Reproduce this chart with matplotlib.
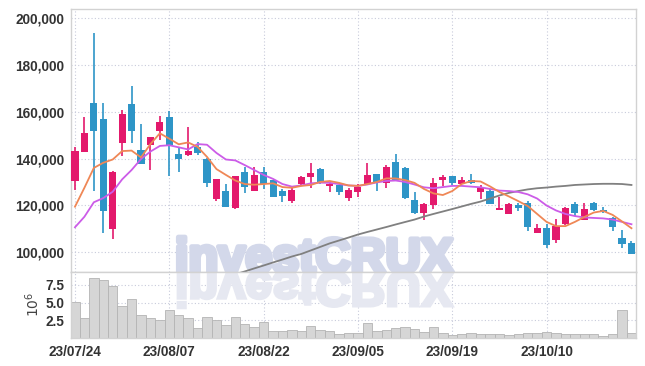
import numpy as np
import matplotlib
matplotlib.use("Agg")
import matplotlib.pyplot as plt
import matplotlib.patheffects as pe
from matplotlib.textpath import TextPath
from matplotlib.patches import PathPatch
from matplotlib.font_manager import FontProperties
from matplotlib.transforms import Affine2D, IdentityTransform

# daily OHLC (KRW), 60 trading days starting 23/07/24
opens = [130500, 142900, 163600, 156900, 110000, 146500, 163300, 143700, 145900, 151900,
         157600, 142000, 141700, 144800, 139800, 122800, 126300, 119000, 134300, 126000,
         134200, 130800, 126100, 121700, 129100, 132200, 135400, 128300, 128700, 123000,
         125800, 129100, 133400, 129400, 138500, 135800, 122300, 116800, 120100, 130800,
         132500, 129100, 130800, 125800, 126200, 118200, 116200, 120000, 120800, 108000,
         110200, 105200, 112000, 120600, 113700, 120800, 118000, 114400, 105900, 103800]
highs = [144800, 157600, 193800, 163600, 134800, 160800, 171200, 154600, 149100, 158200,
         160500, 145000, 153400, 147200, 140100, 131300, 129100, 132600, 136500, 136300,
         136500, 131000, 127100, 128300, 132500, 138000, 135800, 130100, 128900, 127300,
         129100, 138000, 133400, 137200, 141900, 136300, 125800, 120900, 131500, 132800,
         132700, 132000, 133400, 128700, 127000, 123700, 121100, 121100, 122000, 112000,
         112000, 114000, 119400, 121500, 121100, 121500, 119200, 115100, 109400, 104800]
lows = [126500, 142900, 126100, 108300, 105600, 141100, 146800, 137700, 135100, 148000,
        132500, 134400, 141200, 141500, 128000, 122000, 119400, 118300, 125100, 126000,
        126800, 123400, 121500, 120900, 128300, 127300, 129200, 125800, 124300, 121800,
        123400, 129100, 126100, 127300, 130800, 122700, 116100, 113700, 118300, 128300,
        128700, 129000, 129200, 122600, 120400, 118200, 116100, 117700, 109000, 108000,
        101700, 104000, 111600, 115400, 113600, 117600, 116800, 109100, 101600, 99000]
closes = [143200, 150800, 152000, 117700, 134100, 158900, 151900, 137700, 149100, 155600,
          145800, 140000, 143200, 142400, 129700, 131300, 119400, 132500, 127700, 132800,
          129100, 123700, 124100, 126500, 132000, 134000, 129400, 129100, 125800, 126500,
          128000, 132800, 129800, 136300, 130800, 123000, 116800, 120400, 129400, 132100,
          129700, 130800, 129400, 127400, 120600, 118800, 120400, 119000, 110900, 110300,
          102900, 111100, 119000, 116800, 118300, 118000, 117100, 110600, 103400, 99000]

# moving average lines as drawn on the chart
ma_short = [119400, 127500, 136000, 138200, 139600, 143200, 143400, 140500, 146200, 150800,
            148500, 146100, 146900, 145000, 140700, 135500, 133000, 130600, 129100, 128800,
            129100, 129400, 127800, 127500, 128300, 128700, 130000, 130400, 129600, 128500,
            128300, 129100, 130000, 131500, 131500, 130800, 129600, 127000, 125100, 124400,
            126100, 129100, 130400, 130200, 128100, 125700, 123800, 121800, 119700, 116300,
            112900, 111100, 111100, 112900, 115000, 116900, 117600, 115900, 113100, 110200]
ma_mid = [110600, 115100, 121300, 123100, 125800, 131100, 135100, 139800, 143000, 145400,
          145700, 144800, 143900, 146200, 145900, 142400, 139600, 139200, 137200, 135100,
          133000, 131300, 129100, 128000, 128500, 129400, 129700, 129600, 129100, 128500,
          128300, 128900, 129800, 130400, 130600, 130000, 128900, 127700, 127300, 127800,
          128300, 128300, 128000, 127700, 127000, 126300, 126100, 125700, 124700, 122900,
          119900, 117800, 116300, 115400, 114800, 114600, 114400, 113900, 112900, 111900]
ma_long = [np.nan] * 15 + [
          88000, 89200, 90500, 91700, 93000,
          94250, 95550, 96800, 98100, 99200, 100700, 102200, 103700, 104950, 106200,
          107500, 108600, 109650, 110700, 111800, 112860, 113900, 115200, 116300, 117350,
          118400, 119500, 120600, 121600, 122900, 124200, 125300, 126100, 126800, 127300,
          127600, 128000, 128300, 128700, 128900, 129100, 129200, 129200, 129100, 128700]

volumes = [5080000, 2840000, 8460000, 8170000, 7370000, 4560000, 5500000, 3300000, 2840000, 2460000,
           3960000, 3160000, 2840000, 1430000, 2980000, 2460000, 1760000, 2980000, 1900000, 1540000,
           2180000, 960000, 960000, 1150000, 1010000, 1710000, 1150000, 1010000, 590000, 730000,
           730000, 2130000, 910000, 1150000, 1430000, 1570000, 1290000, 870000, 1570000, 730000,
           450000, 490000, 730000, 590000, 590000, 590000, 450000, 590000, 730000, 630000,
           870000, 730000, 590000, 590000, 590000, 590000, 310000, 590000, 3960000, 730000]

tick_pos = [0, 10, 20, 30, 40, 50]
tick_labels = ["23/07/24", "23/08/07", "23/08/22", "23/09/05", "23/09/19", "23/10/10"]

UP = "#e3196c"
DOWN = "#2e95c7"
GRID = "#c8cbdb"
SPINE = "#d2d2d2"
LABEL = "#333333"
WM = "#d3d8ea"
WM_REFL = "#e6e8f1"
tick_font = ["Liberation Sans", "DejaVu Sans"]

x = np.arange(len(closes))
o = np.array(opens)
c = np.array(closes)
colors = [UP if cc >= oo else DOWN for oo, cc in zip(o, c)]

fig = plt.figure(figsize=(6.45, 3.66), dpi=100)
ax = fig.add_axes([0.1101, 0.2560, 0.8755, 0.7186])
axv = fig.add_axes([0.1101, 0.0773, 0.8755, 0.1787], sharex=ax)

# candles
ax.vlines(x, lows, highs, colors=colors, linewidth=1.2, zorder=3)
ax.bar(x, np.maximum(np.abs(c - o), 300), bottom=np.minimum(o, c), width=0.75,
       color=colors, linewidth=0, zorder=4)

ax.plot(x, ma_long, color="#808080", linewidth=1.3, zorder=5)
ax.plot(x, ma_mid, color="#cc5ce8", linewidth=1.3, zorder=5)
ax.plot(x, ma_short, color="#ef8756", linewidth=1.3, zorder=6)

ax.set_xlim(-0.42, 59.45)
ax.set_ylim(91340, 203850)
ax.set_yticks(range(100000, 200001, 20000))
ax.set_yticklabels([f"{v:,}" for v in range(100000, 200001, 20000)])

# volume
axv.bar(x, np.array(volumes) / 1e6, width=1.0, color="#d6d6d6", edgecolor="#b4b4b4",
        linewidth=0.6, zorder=2)
axv.set_ylim(0, 9.3)
axv.set_yticks([2.5, 5.0, 7.5])
axv.set_yticklabels(["2.5", "5.0", "7.5"])
axv.set_xticks(tick_pos)
axv.set_xticklabels(tick_labels)
fig.text(33 / 645, 1 - 304 / 366, "$10^6$", rotation=90, ha="center", va="center",
         fontsize=10, color="#444444")

for a in (ax, axv):
    a.grid(True, color=GRID, linestyle=(0, (1, 2)), linewidth=0.8)
    a.set_axisbelow(True)
    a.tick_params(length=0, pad=5, labelsize=9.8, labelcolor=LABEL)
    for s in a.spines.values():
        s.set_color(SPINE)
        s.set_linewidth(1.0)
    for lab in a.get_xticklabels() + a.get_yticklabels():
        lab.set_family(tick_font)
        lab.set_fontweight("bold")
ax.tick_params(labelbottom=False)

# watermark and its reflection
ax.text(10.6, 91340, "investCRUX", family="Liberation Sans", fontweight="bold",
        fontsize=35, color=WM, ha="left", va="baseline", zorder=1,
        path_effects=[pe.withStroke(linewidth=3.5, foreground=WM)])
px, py = ax.transData.transform((10.6, 91340))
wm_font = FontProperties(family="Liberation Sans", weight="bold")
tp = TextPath((0, 0), "investCRUX", size=35 * 100 / 72, prop=wm_font)
refl = PathPatch(tp, transform=Affine2D().scale(1, -1).translate(px, py) + IdentityTransform(),
                 facecolor=WM_REFL, edgecolor=WM_REFL, linewidth=2.5, zorder=1)
axv.add_artist(refl)
refl.set_clip_path(axv.patch)

fig.savefig("out.png", dpi=100)
